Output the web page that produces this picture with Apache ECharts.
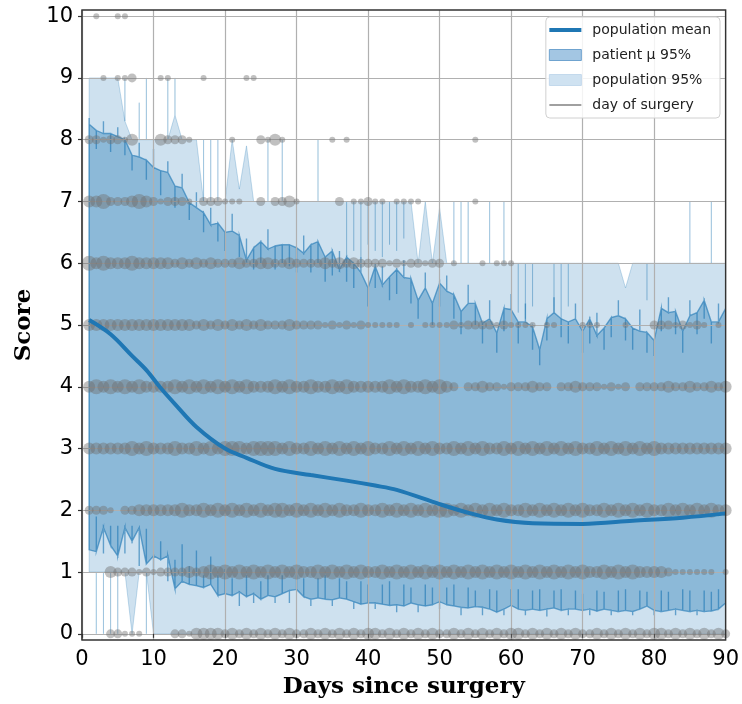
<!DOCTYPE html>
<html>
<head>
<meta charset="utf-8">
<script src="https://cdn.jsdelivr.net/npm/echarts@6/dist/echarts.min.js"></script>
<style>
  html, body { margin: 0; padding: 0; background: #fff; }
  #chart { width: 742px; height: 704px; }
</style>
</head>
<body>
<div id="chart"></div>
<script>
var myChart = echarts.init(document.getElementById('chart'))

// days since surgery (x domain)
var days = Array.from({ length: 90 }, function (_, i) { return i + 1 })
var yTicks = [0, 1, 2, 3, 4, 5, 6, 7, 8, 9, 10]

// patient mu 95% band: edge value per day and the end of its thin spike
var patHi = [8.25,8.15,8.1,8.1,8.05,8.0,7.75,7.72,7.67,7.55,
  7.5,7.47,7.25,7.22,6.98,6.9,6.82,6.62,6.65,6.5,
  6.52,6.45,6.05,6.25,6.35,6.23,6.28,6.3,6.3,6.25,
  6.16,6.3,6.35,6.1,6.2,5.9,6.1,6.0,5.85,5.6,
  5.95,5.65,5.78,5.9,5.77,5.75,5.4,5.6,5.35,5.68,
  5.55,5.49,5.22,5.35,5.35,5.03,5.1,4.87,5.27,5.25,
  5.05,5.05,4.97,4.6,5.1,5.2,5.1,5.05,5.1,4.9,
  5.1,4.83,4.95,5.12,5.15,5.1,4.95,4.9,4.88,4.75,
  5.27,5.2,5.22,4.9,5.15,5.2,5.4,5.05,5.05,5.27]
var patHiSpike = [8.35,7.85,8.3,7.8,8.2,7.75,7.5,7.95,7.35,7.85,
  7.1,7.65,6.9,7.45,6.7,7.15,6.5,6.9,6.35,6.2,
  6.8,6.1,6.4,5.9,6.0,6.55,5.9,6.0,5.95,5.85,
  6.45,5.85,6.0,5.7,5.8,6.2,5.7,5.6,6.1,5.3,
  5.6,5.95,5.4,5.5,6.05,5.35,5.1,5.85,5.0,5.3,
  5.8,5.1,4.85,5.65,5.0,4.7,5.4,4.55,4.9,5.5,
  4.7,5.35,4.6,4.35,4.75,5.45,4.8,4.7,5.35,4.55,
  4.7,5.2,4.6,4.8,5.4,4.75,4.6,5.25,4.55,4.5,
  4.9,5.45,4.85,4.55,5.4,4.85,5.1,4.7,5.35,4.95]
var patLo = [1.36,1.33,1.72,1.43,1.26,1.72,1.5,1.72,1.13,1.26,
  1.2,1.26,0.73,0.85,0.8,0.78,0.75,0.8,0.62,0.65,
  0.62,0.68,0.6,0.65,0.56,0.62,0.6,0.65,0.7,0.72,
  0.6,0.56,0.58,0.56,0.55,0.58,0.56,0.52,0.48,0.5,
  0.5,0.48,0.46,0.47,0.45,0.5,0.47,0.45,0.47,0.52,
  0.47,0.45,0.43,0.42,0.44,0.43,0.4,0.35,0.4,0.46,
  0.4,0.38,0.4,0.38,0.4,0.42,0.38,0.4,0.4,0.38,
  0.4,0.37,0.4,0.38,0.36,0.38,0.36,0.4,0.45,0.38,
  0.36,0.38,0.4,0.38,0.36,0.38,0.36,0.37,0.4,0.5]
var patLoSpike = [1.75,1.9,1.3,1.75,1.75,1.3,1.75,1.1,1.7,0.95,
  1.5,0.85,1.2,1.45,1.1,1.35,0.95,1.25,0.95,1.05,
  0.9,0.45,0.95,0.5,0.85,0.95,0.5,0.95,0.5,0.95,
  0.9,0.45,0.9,0.95,0.45,0.9,0.85,0.4,0.85,0.8,
  0.4,0.8,0.85,0.35,0.8,0.75,0.35,0.8,0.75,0.4,
  0.75,0.8,0.3,0.75,0.7,0.3,0.72,0.7,0.3,0.72,
  0.72,0.3,0.7,0.72,0.28,0.7,0.72,0.3,0.7,0.65,
  0.3,0.7,0.68,0.3,0.7,0.72,0.3,0.7,0.68,0.3,
  0.7,0.68,0.3,0.72,0.7,0.3,0.7,0.68,0.72,0.45]

// population 95% band, one value per day plus thin spikes [day, value]
var popHi = [9,9,9,9,9,8.3,8,8,8,8,
  8,8,8.4,8,8,8,7,7,7,7,
  8,7.2,7.9,7,7,7,7,7,7,7,
  7,7,7,7,7,7,7,7,7,7,
  7,7,7,7,7,7,6,7,6,6.9,
  6,6,6,6,6,6,6,6,6,6,
  6,6,6,6,6,6,6,6,6,6,
  6,6,6,6,6,5.6,6,6,6,6,
  6,6,6,6,6,6,6,6,6,6]
var popHiSpikes = [[6,9],[8,8.6],[9,9],[12,9],[13,9],[17,8],[18,8],[19,8],[26,8],[28,8],[30,8],[33,8],
  [37,6.1],[38,6.2],[39,6.1],[40,6.3],[41,6.2],[42,6.1],[43,6.3],[44,6.2],[45,6.4],
  [52,7],[53,7],[54,7],[57,7],[59,7],[61,5.2],[62,5.1],[63,5.3],[66,5.2],[67,5.1],[68,5.3],
  [79,5.4],[85,7],[88,7]]
var popLo = [1,1,1,1,1,1,0,1,1,0,
  0,0,0,0,0,0,0,0,0,0,
  0,0,0,0,0,0,0,0,0,0,
  0,0,0,0,0,0,0,0,0,0,
  0,0,0,0,0,0,0,0,0,0,
  0,0,0,0,0,0,0,0,0,0,
  0,0,0,0,0,0,0,0,0,0,
  0,0,0,0,0,0,0,0,0,0,
  0,0,0,0,0,0,0,0,0,0]
var popLoSpikes = [[2,0],[3,0],[4,0],[5,0],[9,0]]

// population mean
var meanDays = [1,4,7,9,11,13,16,20,23,27,32,37,41,44,50,54,58,63,70,77,84,90]
var meanScore = [5.08,4.85,4.5,4.27,3.98,3.72,3.35,3.0,2.85,2.67,2.57,2.48,2.4,2.33,2.1,1.96,1.85,1.79,1.78,1.83,1.88,1.95]

// observed scores: one string per score 0..10, one digit per day = dot size class
var dotRows = [
  '0002211100 0022133332 3232323232 2323232323 3232323232 2323232323 3232323232 2323232323 3232323232',
  '0003222121 2222323434 3434343434 3343434343 3434343434 3434343434 3434343434 3343434333 3211111101',
  '2221022333 3334334343 4343434434 3434343343 3434343434 4343434343 3434343434 3343434343 3434343433',
  '3333334343 3343343434 4434444343 3434343434 3343434343 3434343343 4343434343 3434343434 3333333333',
  '3434343433 3343434343 4343334343 3433434333 3343433434 3202232212 2232202232 2212120222 2322322323',
  '3333333333 3333323232 3232322232 2221212121 1111010111 1212222121 1110110001 1100010002 2212121010',
  '4343334333 3323232322 2322332232 2223232322 2212122122 0100010111 0000000000 0000000000 0000000000',
  '3342223432 1222102221 1100202231 0000020112 1101111000 0000100000 0000000000 0000000000 0000000000',
  '2212213000 3222100000 1000213100 0000101000 0000000000 0000100000 0000000000 0000000000 0000000000',
  '0010112000 1100001000 0011000000 0000000000 0000000000 0000000000 0000000000 0000000000 0000000000',
  '0100110000 0000000000 0000000000 0000000000 0000000000 0000000000 0000000000 0000000000 0000000000'
]
var dotSizes = [0, 6, 9, 12, 15]

// edge path: each day visits its value, runs out to the spike end and back
function edgePath(base, spikeOf) {
  var pts = []
  days.forEach(function (d, i) {
    pts.push([d, base[i]])
    var s = spikeOf(d, i)
    if (s != null) pts.push([d, s], [d, base[i]])
  })
  return pts
}
function fromList(list) {
  return function (d) {
    for (var k = 0; k < list.length; k++) if (list[k][0] === d) return list[k][1]
    return null
  }
}
var patUpper = edgePath(patHi, function (d, i) { return patHiSpike[i] })
var patLower = edgePath(patLo, function (d, i) { return patLoSpike[i] })
var popUpper = edgePath(popHi, fromList(popHiSpikes))
var popLower = edgePath(popLo, fromList(popLoSpikes))

var dots = []
dotRows.forEach(function (row, score) {
  row.replace(/ /g, '').split('').forEach(function (c, i) {
    var k = +c
    if (k > 0) dots.push([days[i], score, k])
  })
})

function bandRender(upper, lower, fill, stroke, width) {
  return function (params, api) {
    if (params.dataIndex !== 0) return null
    var pts = upper.map(function (p) { return api.coord(p) })
    for (var i = lower.length - 1; i >= 0; i--) pts.push(api.coord(lower[i]))
    return {
      type: 'polygon',
      shape: { points: pts },
      style: { fill: fill, stroke: stroke, lineWidth: width }
    }
  }
}

var popFill = 'rgba(31,119,180,0.22)'
var popEdge = 'rgba(31,119,180,0.25)'
var patFill = 'rgba(31,119,180,0.38)'
var patEdge = 'rgba(31,119,180,0.62)'

var option = {
  animation: false,
  grid: {
    left: 82, right: 15, top: 10, bottom: 63,
    show: true, borderColor: '#333', borderWidth: 1.4, z: 5
  },
  legend: {
    orient: 'vertical',
    right: 22,
    top: 17,
    itemWidth: 32,
    itemHeight: 11,
    itemGap: 11,
    symbolKeepAspect: true,
    padding: [6, 9, 6, 3],
    backgroundColor: 'rgba(255,255,255,0.85)',
    borderColor: '#d0d0d0',
    borderWidth: 1,
    borderRadius: 4,
    textStyle: { fontFamily: 'DejaVu Sans', fontSize: 14, color: '#222', padding: [0, 0, 0, 6] },
    data: [
      { name: 'population mean', icon: 'path://M0,0H32V4H0Z', itemStyle: { color: '#1f77b4', borderWidth: 0 } },
      { name: 'patient μ 95%', icon: 'rect', itemStyle: { color: '#a3c6e3', borderColor: '#6fa3cf', borderWidth: 1 } },
      { name: 'population 95%', icon: 'rect', itemStyle: { color: '#cfe2f1', borderColor: '#c3d9ec', borderWidth: 1 } },
      { name: 'day of surgery', icon: 'path://M0,0H32V1.6H0Z', itemStyle: { color: '#808080', borderWidth: 0 } }
    ]
  },
  xAxis: {
    type: 'value',
    min: 0,
    max: 90,
    interval: 10,
    z: 1.5,
    name: 'Days since surgery',
    nameLocation: 'middle',
    nameGap: 36,
    nameTextStyle: { fontFamily: 'DejaVu Serif', fontWeight: 'bold', fontSize: 23, color: '#000' },
    axisLine: { show: false },
    axisTick: { show: true, inside: false, length: 4, lineStyle: { color: '#333', width: 1.2 } },
    axisLabel: { fontFamily: 'DejaVu Sans', fontSize: 21, color: '#000', margin: 9 },
    splitLine: { show: true, lineStyle: { color: '#b0b0b0', width: 1.2 } }
  },
  yAxis: {
    type: 'value',
    min: -0.1,
    max: 10.1,
    z: 1.5,
    name: 'Score',
    nameLocation: 'middle',
    nameGap: 44,
    nameTextStyle: { fontFamily: 'DejaVu Serif', fontWeight: 'bold', fontSize: 23, color: '#000' },
    axisLine: { show: false },
    axisTick: { show: true, inside: false, length: 4, customValues: yTicks, lineStyle: { color: '#333', width: 1.2 } },
    axisLabel: { fontFamily: 'DejaVu Sans', fontSize: 21, color: '#000', margin: 9, customValues: yTicks },
    splitLine: { show: true, lineStyle: { color: '#b0b0b0', width: 1.2 } }
  },
  series: [
    {
      name: 'population 95%',
      type: 'custom',
      z: 1,
      clip: true,
      silent: true,
      itemStyle: { color: '#cfe2f1' },
      renderItem: bandRender(popUpper, popLower, popFill, popEdge, 1),
      data: popUpper
    },
    {
      name: 'patient μ 95%',
      type: 'custom',
      z: 1.2,
      clip: true,
      silent: true,
      itemStyle: { color: '#a3c6e3' },
      renderItem: bandRender(patUpper, patLower, patFill, patEdge, 1.4),
      data: patUpper
    },
    {
      name: 'observed',
      type: 'scatter',
      z: 3,
      silent: true,
      symbolSize: function (v) { return dotSizes[v[2]] },
      itemStyle: { color: 'rgba(112,112,112,0.55)' },
      data: dots
    },
    {
      name: 'day of surgery',
      type: 'line',
      z: 1.3,
      symbol: 'none',
      lineStyle: { color: '#808080', width: 1.5 },
      data: [[0, -0.1], [0, 10.1]]
    },
    {
      name: 'population mean',
      type: 'line',
      z: 4,
      symbol: 'none',
      smooth: 0.35,
      lineStyle: { color: '#1f77b4', width: 4 },
      itemStyle: { color: '#1f77b4' },
      data: meanDays.map(function (d, i) { return [d, meanScore[i]] })
    }
  ]
}

myChart.setOption(option)
</script>
</body>
</html>
